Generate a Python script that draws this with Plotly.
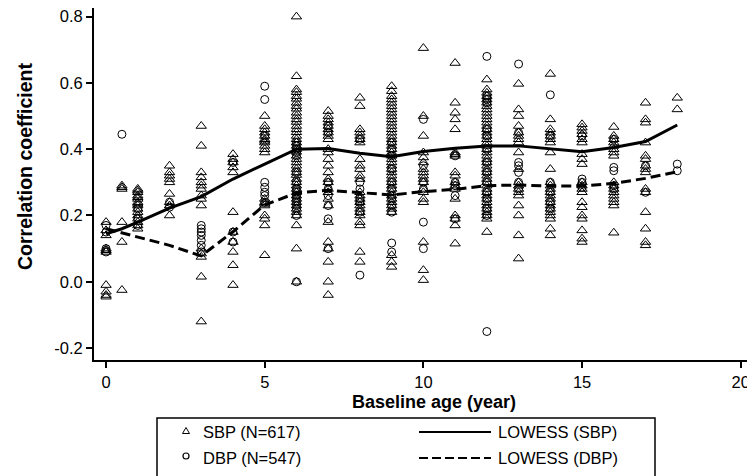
import plotly.graph_objects as go

# ---------------- data ----------------
ages = [0, 0.5, 1, 2, 3, 4, 5, 6, 7, 8, 9, 10, 11, 12, 13, 14, 15, 16, 17, 18]

sbp_values = [
    [0.18, 0.155, 0.14, 0.10, 0.095, 0.09, -0.01, -0.03, -0.04, -0.045],
    [0.29, 0.285, 0.28, 0.18, 0.12, -0.025],
    [0.28, 0.275, 0.27, 0.26, 0.255, 0.25, 0.24, 0.235, 0.23, 0.22, 0.21, 0.2, 0.19, 0.18, 0.17, 0.16],
    [0.35, 0.33, 0.32, 0.31, 0.3, 0.265, 0.24, 0.23, 0.2],
    [0.47, 0.41, 0.33, 0.315, 0.3, 0.29, 0.28, 0.26, 0.25, 0.23, 0.1, 0.085, 0.075, 0.015, -0.12],
    [0.385, 0.37, 0.36, 0.345, 0.33, 0.21, 0.15, 0.12, 0.09, 0.05, -0.01],
    [0.5, 0.47, 0.46, 0.45, 0.44, 0.43, 0.425, 0.42, 0.41, 0.4, 0.39, 0.25, 0.24, 0.235, 0.23, 0.2, 0.19, 0.17, 0.08],
    [0.8, 0.62, 0.58, 0.572, 0.56, 0.552, 0.54, 0.53, 0.522, 0.51, 0.5, 0.49, 0.482, 0.47, 0.46, 0.451, 0.44, 0.43,
     0.42, 0.41, 0.40, 0.392, 0.38, 0.37, 0.36, 0.35, 0.34, 0.33, 0.322, 0.31, 0.3, 0.29, 0.28, 0.27, 0.26, 0.25,
     0.24, 0.23, 0.22, 0.21, 0.2, 0.17, 0.1, 0.0],
    [0.515, 0.5, 0.49, 0.48, 0.47, 0.46, 0.45, 0.44, 0.43, 0.4, 0.39, 0.37, 0.35, 0.33, 0.31, 0.3, 0.28, 0.27,
     0.25, 0.23, 0.18, 0.12, 0.1, 0.06, 0.0, -0.04],
    [0.555, 0.53, 0.46, 0.45, 0.44, 0.43, 0.42, 0.37, 0.35, 0.34, 0.32, 0.31, 0.27, 0.26, 0.25, 0.24, 0.23, 0.22,
     0.21, 0.2, 0.18, 0.17, 0.09, 0.06],
    [0.59, 0.575, 0.56, 0.55, 0.54, 0.53, 0.52, 0.51, 0.5, 0.49, 0.48, 0.47, 0.46, 0.45, 0.44, 0.43, 0.42, 0.41,
     0.4, 0.39, 0.38, 0.37, 0.36, 0.35, 0.34, 0.33, 0.32, 0.31, 0.3, 0.29, 0.28, 0.27, 0.26, 0.25, 0.24, 0.23,
     0.22, 0.21, 0.08, 0.06, 0.045],
    [0.705, 0.5, 0.44, 0.39, 0.375, 0.36, 0.34, 0.33, 0.32, 0.31, 0.3, 0.28, 0.27, 0.25, 0.24, 0.12, 0.035, 0.005],
    [0.66, 0.54, 0.51, 0.49, 0.46, 0.39, 0.385, 0.38, 0.33, 0.32, 0.3, 0.29, 0.28, 0.25, 0.2, 0.19, 0.17, 0.115],
    [0.61, 0.58, 0.57, 0.56, 0.55, 0.54, 0.53, 0.52, 0.51, 0.5, 0.49, 0.48, 0.47, 0.46, 0.45, 0.44, 0.43, 0.42,
     0.41, 0.4, 0.39, 0.38, 0.37, 0.36, 0.35, 0.34, 0.33, 0.32, 0.31, 0.3, 0.29, 0.28, 0.27, 0.26, 0.25, 0.24,
     0.23, 0.22, 0.21, 0.2, 0.19, 0.15],
    [0.597, 0.52, 0.5, 0.47, 0.45, 0.44, 0.43, 0.42, 0.39, 0.34, 0.3, 0.29, 0.28, 0.27, 0.26, 0.23, 0.2, 0.14, 0.07],
    [0.627, 0.49, 0.46, 0.45, 0.44, 0.43, 0.42, 0.39, 0.34, 0.3, 0.29, 0.28, 0.27, 0.26, 0.25, 0.24, 0.23, 0.22,
     0.21, 0.2, 0.19, 0.16, 0.14],
    [0.475, 0.465, 0.455, 0.445, 0.43, 0.42, 0.385, 0.37, 0.355, 0.3, 0.29, 0.28, 0.27, 0.24, 0.225, 0.2, 0.19,
     0.155, 0.13, 0.12],
    [0.467, 0.44, 0.43, 0.42, 0.41, 0.4, 0.39, 0.38, 0.3, 0.29, 0.28, 0.27, 0.26, 0.25, 0.24, 0.23, 0.148],
    [0.54, 0.49, 0.48, 0.42, 0.38, 0.37, 0.35, 0.34, 0.33, 0.28, 0.27, 0.21, 0.16, 0.12, 0.11],
    [0.555, 0.52],
]

dbp_values = [
    [0.17, 0.15, 0.10, 0.09],
    [0.445],
    [0.22, 0.19, 0.17],
    [0.24, 0.225],
    [0.17, 0.16, 0.15, 0.14, 0.125, 0.11, 0.09],
    [0.36, 0.15, 0.12],
    [0.59, 0.55, 0.44, 0.3, 0.285, 0.27, 0.26, 0.24],
    [0.42, 0.41, 0.4, 0.39, 0.38, 0.33, 0.3, 0.28, 0.27, 0.26, 0.25, 0.24, 0.23, 0.22, 0.2, 0.0],
    [0.47, 0.45, 0.3, 0.28, 0.26, 0.23, 0.19, 0.1],
    [0.43, 0.3, 0.28, 0.25, 0.24, 0.21, 0.02],
    [0.42, 0.4, 0.38, 0.34, 0.3, 0.28, 0.26, 0.25, 0.23, 0.21, 0.117, 0.09],
    [0.49, 0.35, 0.3, 0.28, 0.18, 0.1],
    [0.38, 0.3, 0.29, 0.26, 0.19],
    [0.68, 0.56, 0.55, 0.54, 0.46, 0.44, 0.4, 0.36, 0.33, 0.3, 0.27, 0.25, 0.22, 0.2, -0.15],
    [0.657, 0.45, 0.36, 0.35, 0.33, 0.3, 0.28],
    [0.564, 0.44, 0.3, 0.27, 0.24, 0.22],
    [0.44, 0.31, 0.3, 0.285],
    [0.43, 0.345, 0.335, 0.29, 0.28],
    [0.35, 0.27],
    [0.355, 0.335],
]

lowess_x = [0, 0.5, 1, 2, 3, 4, 5, 6, 7, 8, 9, 10, 11, 12, 13, 14, 15, 16, 17, 18]
lowess_sbp = [0.145, 0.16, 0.18, 0.222, 0.257, 0.31, 0.355, 0.40, 0.402, 0.388, 0.377, 0.393, 0.403, 0.41,
              0.41, 0.40, 0.392, 0.405, 0.423, 0.473]
lowess_dbp = [0.16, 0.147, 0.136, 0.11, 0.078, 0.151, 0.232, 0.268, 0.276, 0.269, 0.262, 0.272, 0.279, 0.29,
              0.292, 0.289, 0.289, 0.297, 0.312, 0.332]

x_ticks = [0, 5, 10, 15, 20]
y_ticks = [-0.2, 0.0, 0.2, 0.4, 0.6, 0.8]
y_tick_labels = ["-0.2", "0.0", "0.2", "0.4", "0.6", "0.8"]

legend_labels = ["SBP (N=617)", "DBP (N=547)", "LOWESS (SBP)", "LOWESS (DBP)"]

# ---------------- build figure ----------------
def flatten(groups):
    xs, ys = [], []
    for a, vals in zip(ages, groups):
        for v in vals:
            xs.append(a)
            ys.append(v)
    return xs, ys

sx, sy = flatten(sbp_values)
dx, dy = flatten(dbp_values)

FONT = "Liberation Sans, Arial, Helvetica, sans-serif"

fig = go.Figure()
fig.add_trace(go.Scatter(x=dx, y=dy, mode="markers", showlegend=False,
                         marker=dict(symbol="circle-open", size=8, color="black", line=dict(width=1))))
fig.add_trace(go.Scatter(x=sx, y=sy, mode="markers", showlegend=False,
                         marker=dict(symbol="triangle-up-open", size=9, color="black", line=dict(width=1))))
fig.add_trace(go.Scatter(x=lowess_x, y=lowess_sbp, mode="lines", showlegend=False,
                         line=dict(color="black", width=3)))
fig.add_trace(go.Scatter(x=lowess_x, y=lowess_dbp, mode="lines", showlegend=False,
                         line=dict(color="black", width=3, dash="10px,5px")))

# the page has an 8px body margin: figure is drawn 8px right/down of the page origin
OFF = 8
FW, FH = 755 - OFF, 476 - OFF
L, R, T, B = 94 - OFF, 0, 0, 116
W, H = FW - L - R, FH - T - B

def px(x):  # page pixel x -> paper
    return (x - OFF - L) / W

def py(y):  # page pixel y -> paper
    return (FH - B - (y - OFF)) / H

shapes = [
    dict(type="rect", xref="paper", yref="paper", x0=px(157), x1=px(655), y0=py(418), y1=py(482),
         line=dict(color="black", width=1.5), fillcolor="rgba(0,0,0,0)"),
    dict(type="line", xref="paper", yref="paper", x0=px(419), x1=px(491), y0=py(432), y1=py(432),
         line=dict(color="black", width=2)),
    dict(type="line", xref="paper", yref="paper", x0=px(419), x1=px(491), y0=py(458), y1=py(458),
         line=dict(color="black", width=2, dash="9px,4px")),
    dict(type="path", xref="paper", yref="paper", xsizemode="pixel", ysizemode="pixel",
         xanchor=px(186), yanchor=py(431), path="M-3.5,-2.5 L3.5,-2.5 L0,3.5 Z",
         line=dict(color="black", width=1)),
    dict(type="circle", xref="paper", yref="paper", xsizemode="pixel", ysizemode="pixel",
         xanchor=px(186), yanchor=py(456), x0=-3, x1=3, y0=-3, y1=3,
         line=dict(color="black", width=1.2)),
]

annotations = [
    dict(text="<b>Baseline age (year)</b>", xref="paper", yref="paper", x=px(433.5), y=py(401.5),
         xanchor="center", yanchor="middle", showarrow=False, font=dict(family=FONT, size=18, color="black")),
    dict(text="<b>Correlation coefficient</b>", xref="paper", yref="paper", x=px(25), y=py(167),
         xanchor="center", yanchor="middle", textangle=-90, showarrow=False,
         font=dict(family=FONT, size=19.5, color="black")),
    dict(text=legend_labels[0], xref="paper", yref="paper", x=px(201), y=py(432), xanchor="left",
         yanchor="middle", showarrow=False, font=dict(family=FONT, size=16.5, color="black")),
    dict(text=legend_labels[1], xref="paper", yref="paper", x=px(201), y=py(458), xanchor="left",
         yanchor="middle", showarrow=False, font=dict(family=FONT, size=16.5, color="black")),
    dict(text=legend_labels[2], xref="paper", yref="paper", x=px(496), y=py(432), xanchor="left",
         yanchor="middle", showarrow=False, font=dict(family=FONT, size=16.5, color="black")),
    dict(text=legend_labels[3], xref="paper", yref="paper", x=px(496), y=py(458), xanchor="left",
         yanchor="middle", showarrow=False, font=dict(family=FONT, size=16.5, color="black")),
]

fig.update_layout(
    width=FW, height=FH,
    margin=dict(l=L, r=R, t=T, b=B),
    paper_bgcolor="white", plot_bgcolor="white",
    font=dict(family=FONT, size=16.5, color="black"),
    shapes=shapes, annotations=annotations,
    showlegend=False,
)
fig.update_xaxes(range=[-0.38, 20.45], tickvals=x_ticks, ticks="outside", ticklen=6, tickwidth=2,
                 tickcolor="black", showline=True, linecolor="black", linewidth=2, showgrid=False,
                 zeroline=False, automargin=False, ticklabeloverflow="allow",
                 tickfont=dict(family=FONT, size=16.5, color="black"))
fig.update_yaxes(range=[-0.236, 0.826], tickvals=y_ticks, ticktext=y_tick_labels, ticks="outside",
                 ticklen=6, tickwidth=1.5, tickcolor="black", showline=True, linecolor="black", linewidth=2,
                 showgrid=False, zeroline=False, automargin=False, ticklabeloverflow="allow",
                 tickfont=dict(family=FONT, size=16.5, color="black"))

fig.write_html("out.html")
